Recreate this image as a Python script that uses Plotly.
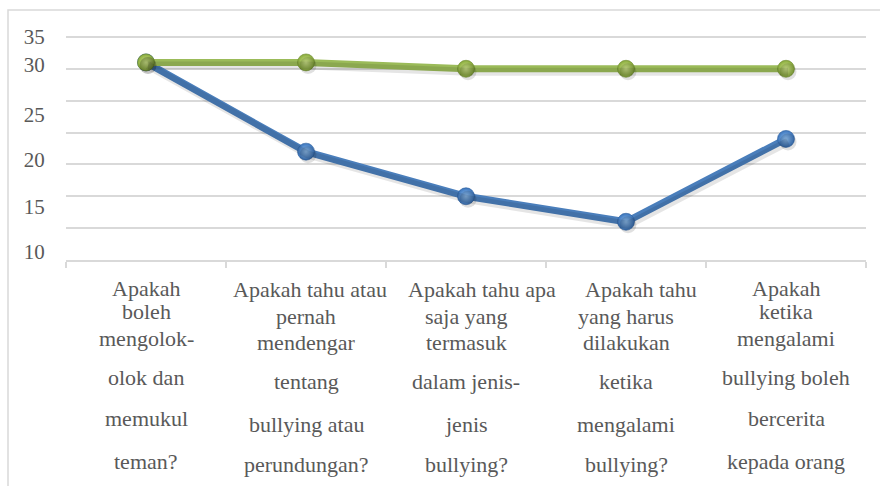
import plotly.graph_objects as go

# ---------------- data ----------------
CATEGORIES = [
    "Apakah boleh mengolok-olok dan memukul teman?",
    "Apakah tahu atau pernah mendengar tentang bullying atau perundungan?",
    "Apakah tahu apa saja yang termasuk dalam jenis-jenis bullying?",
    "Apakah tahu yang harus dilakukan ketika mengalami bullying?",
    "Apakah ketika mengalami bullying boleh bercerita kepada orang",
]
CATEGORY_LINES = [
    ["Apakah", "boleh", "mengolok-", "olok dan", "memukul", "teman?"],
    ["Apakah tahu atau", "pernah", "mendengar", "tentang", "bullying atau", "perundungan?"],
    ["Apakah tahu apa", "saja yang", "termasuk", "dalam jenis-", "jenis", "bullying?"],
    ["Apakah tahu", "yang harus", "dilakukan", "ketika", "mengalami", "bullying?"],
    ["Apakah", "ketika", "mengalami", "bullying boleh", "bercerita", "kepada orang"],
]
SERIES_BLUE = [31, 17, 10, 6, 19]
SERIES_GREEN = [31, 31, 30, 30, 30]
Y_GRID_VALUES = [0, 5, 10, 15, 20, 25, 30, 35]
Y_TICK_TEXT = ["35", "30", "25", "20", "15", "10"]

# ---------------- layout constants ----------------
W, H = 880, 486
Y_RANGE = [0, 35.3]
PX_PER_UNIT = 6.37
PLOT_BOTTOM = 260
PLOT_H = round(PX_PER_UNIT * (Y_RANGE[1] - Y_RANGE[0]))
PLOT_TOP = PLOT_BOTTOM - PLOT_H
PLOT_LEFT, PLOT_RIGHT = 66, 866
PLOT_W = PLOT_RIGHT - PLOT_LEFT
# where the (displaced) y labels sit in the picture, in axis units
Y_TICK_POS = [35.1, 30.6, 22.8, 15.7, 8.4, 1.3]
# line centres (px from top) of the category labels
LINE_Y_A = [288, 311, 338, 377, 418, 461]
LINE_Y_B = [289, 316, 342, 381, 424, 465]
LINE_PATTERN = [LINE_Y_A, LINE_Y_B, LINE_Y_B, LINE_Y_B, LINE_Y_A]
FIRST_LINE_XSHIFT = [0, 4, 16, 15, 0]

BLUE = "#4a7ebb"
GREEN = "#9bbb59"
GRID = "#d9d9d9"
TEXT = "#595959"
SERIF = "Liberation Serif"

SHADOW_DY = 3 / PX_PER_UNIT
SHADOW_DX = 2 / (PLOT_W / len(CATEGORIES))

fig = go.Figure()

# soft drop shadows (same data on slightly shifted hidden axes)
for vals in (SERIES_BLUE, SERIES_GREEN):
    fig.add_trace(go.Scatter(
        x=CATEGORIES, y=vals, xaxis="x2", yaxis="y3", mode="lines+markers",
        line=dict(color="rgba(0,0,0,0.10)", width=8),
        marker=dict(size=17, color="rgba(0,0,0,0.12)"),
        hoverinfo="skip", showlegend=False,
    ))

# invisible carrier so the label axis is drawn
fig.add_trace(go.Scatter(
    x=CATEGORIES, y=SERIES_GREEN, yaxis="y2", mode="markers",
    marker=dict(size=1, opacity=0), hoverinfo="skip", showlegend=False,
))

fig.add_trace(go.Scatter(
    x=CATEGORIES, y=SERIES_BLUE, name="Seri 1", mode="lines+markers",
    line=dict(color=BLUE, width=7),
    marker=dict(size=17, color="#3b74bb",
                gradient=dict(type="radial", color="#93c4f6"),
                line=dict(color="#2e5f9e", width=0.6)),
    showlegend=False,
))
fig.add_trace(go.Scatter(
    x=CATEGORIES, y=SERIES_GREEN, name="Seri 2", mode="lines+markers",
    line=dict(color=GREEN, width=7),
    marker=dict(size=17, color="#87a83b",
                gradient=dict(type="radial", color="#d8ef90"),
                line=dict(color="#6b8a2c", width=0.6)),
    showlegend=False,
))

# category labels, line by line
annotations = []
for ci, (cat, lines) in enumerate(zip(CATEGORIES, CATEGORY_LINES)):
    for li, txt in enumerate(lines):
        py = LINE_PATTERN[ci][li]
        annotations.append(dict(
            x=cat, xref="x", y=(PLOT_BOTTOM - py) / PLOT_H, yref="paper",
            text=txt, showarrow=False, xanchor="center", yanchor="middle",
            xshift=FIRST_LINE_XSHIFT[ci] if li == 0 else 0,
            font=dict(family=SERIF, size=22, color=TEXT),
        ))

fig.update_layout(
    width=W, height=H,
    margin=dict(l=PLOT_LEFT, r=W - PLOT_RIGHT, t=PLOT_TOP, b=H - PLOT_BOTTOM, pad=0),
    paper_bgcolor="white", plot_bgcolor="white",
    font=dict(family=SERIF, color=TEXT),
    xaxis=dict(
        type="category", categoryorder="array", categoryarray=CATEGORIES,
        range=[-0.5, len(CATEGORIES) - 0.5],
        showgrid=False, zeroline=False, showticklabels=False,
        showline=True, linecolor=GRID, linewidth=2,
        ticks="outside", tickson="boundaries", ticklen=6, tickcolor=GRID, tickwidth=2,
    ),
    xaxis2=dict(
        type="category", categoryorder="array", categoryarray=CATEGORIES,
        overlaying="x", visible=False,
        range=[-0.5 - SHADOW_DX, len(CATEGORIES) - 0.5 - SHADOW_DX],
    ),
    yaxis=dict(
        range=Y_RANGE, tickvals=Y_GRID_VALUES, showticklabels=False,
        showgrid=True, gridcolor=GRID, gridwidth=1.5, zeroline=False,
        showline=False, ticks="",
    ),
    yaxis2=dict(
        overlaying="y", side="left", range=Y_RANGE,
        tickmode="array", tickvals=Y_TICK_POS, ticktext=Y_TICK_TEXT,
        showgrid=False, zeroline=False, showline=False,
        ticks="outside", ticklen=16, tickcolor="rgba(0,0,0,0)",
        tickfont=dict(family=SERIF, size=21, color=TEXT),
    ),
    yaxis3=dict(
        overlaying="y", visible=False,
        range=[Y_RANGE[0] + SHADOW_DY, Y_RANGE[1] + SHADOW_DY],
    ),
    annotations=annotations,
    shapes=[dict(
        type="rect", xref="paper", yref="paper", layer="below",
        x0=(8 - PLOT_LEFT) / PLOT_W, x1=(884 - PLOT_LEFT) / PLOT_W,
        y0=(PLOT_BOTTOM - 520) / PLOT_H, y1=(PLOT_BOTTOM - 10) / PLOT_H,
        line=dict(color=GRID, width=1.5), fillcolor="rgba(0,0,0,0)",
    )],
)

fig.write_html("out.html", config={"displayModeBar": False},
               post_script="document.body.style.margin='0';")
